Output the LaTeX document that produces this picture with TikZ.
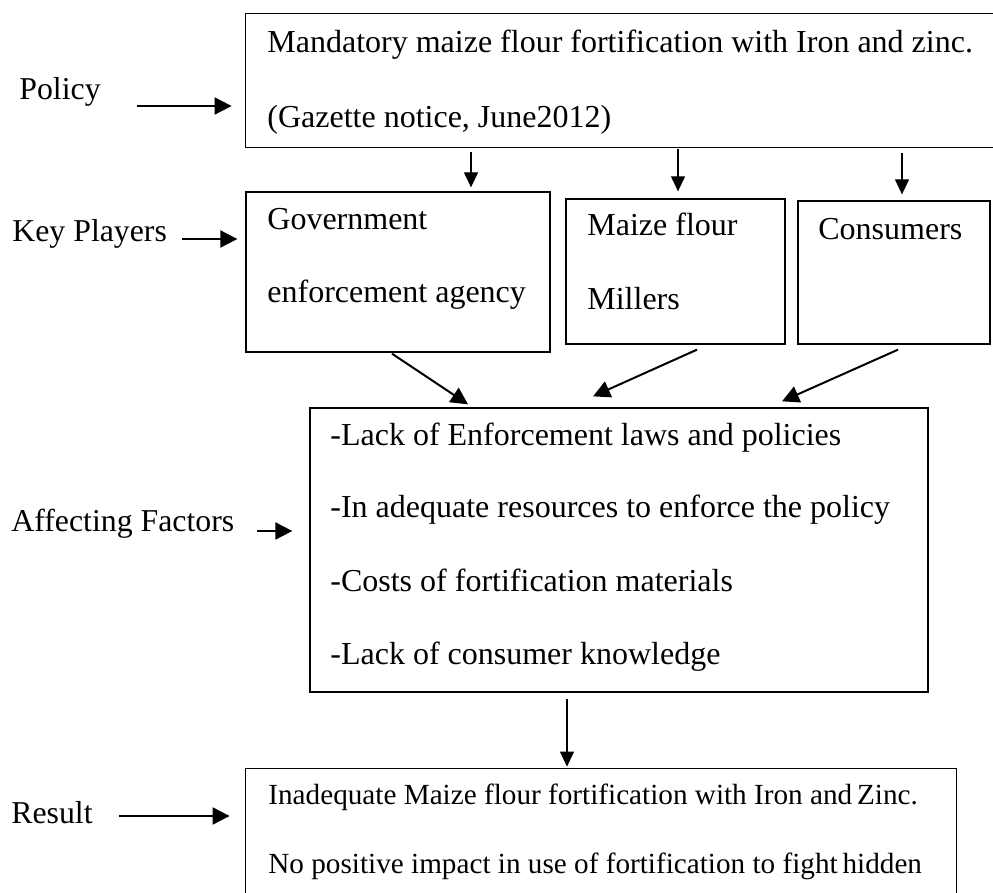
\documentclass[tikz,border=0pt]{standalone}
\usepackage{fontspec}
\setmainfont{Liberation Serif}
\usetikzlibrary{arrows.meta,calc,fit}
\begin{document}
\begin{tikzpicture}[x=0.5pt,y=-0.5pt,
  lab/.style={anchor=base west,inner sep=0pt,font=\fontsize{15.9pt}{18pt}\selectfont},
  txt/.style={anchor=base west,inner sep=0pt,font=\fontsize{16pt}{18pt}\selectfont},
  rtxt/.style={anchor=base west,inner sep=0pt,font=\fontsize{14.6pt}{17pt}\selectfont},
  box/.style={draw,line width=0.65pt,inner sep=0pt},
  frame/.style={inner sep=0pt},
  arr/.style={line width=1pt,-{Triangle[length=8.5pt,width=8.5pt]}},
  tarr/.style={line width=0.65pt,-{Triangle[length=7.5pt,width=7pt]}}]
\useasboundingbox (0,0) rectangle (993,893);
% boxes
\node[frame,fit={(246,14)(993,147)}] (top) {};
\draw[line width=0.65pt] (top.north east) -- (top.north west) -- (top.south west) -- (top.south east);
\node[box,fit={(246,192)(550,352)}] (gov) {};
\node[box,fit={(566,199)(785,344)}] (mil) {};
\node[box,fit={(798,201)(990,344)}] (con) {};
\node[box,fit={(310,408)(928,692)}] (fac) {};
\node[frame,fit={(246,769)(956,893)}] (res) {};
\draw[line width=0.65pt] (res.south west) -- (res.north west) -- (res.north east) -- (res.south east);
% texts
\node[txt] (t1) at (267,53) {Mandatory maize flour fortification with Iron and zinc.};
\node[txt] (t2) at (267,128) {(Gazette notice, June2012)};
\node[txt] (g1) at (267,230) {Government};
\node[txt] (g2) at (267,303) {enforcement agency};
\node[txt] (m1) at (587,236) {Maize flour};
\node[txt] (m2) at (587,310) {Millers};
\node[txt] (c1) at (818,240) {Consumers};
\node[txt] (f1) at (330,446) {-Lack of Enforcement laws and policies};
\node[txt] (f2) at (330,518) {-In adequate resources to enforce the policy};
\node[txt] (f3) at (330,592) {-Costs of fortification materials};
\node[txt] (f4) at (330,665) {-Lack of consumer knowledge};
\node[rtxt] (r1) at (268,805) {Inadequate Maize flour fortification with Iron and\,Zinc.};
\node[rtxt] (r2) at (268,874) {No positive impact in use of fortification to fight\,hidden};
% labels
\node[lab] (policy) at (19,100) {Policy};
\node[lab] (key) at (12,242) {Key Players};
\node[lab] (aff) at (11,532) {Affecting Factors};
\node[lab] (result) at (11,824) {Result};
\coordinate (pA) at (137,106);
\coordinate (kA) at (182,239);
\coordinate (aA) at (257,531);
\coordinate (rA) at (119,816);
\draw[arr,shorten >=7pt] (pA) -- (top.west |- pA);
\draw[arr,shorten >=4pt] (kA) -- (gov.west |- kA);
\draw[arr,shorten >=8.5pt] (aA) -- (fac.west |- aA);
\draw[arr,shorten >=8pt] (rA) -- (res.west |- rA);
% down arrows from policy box
\draw[tarr] ($(top.south -| 471,0)+(0,5)$) -- ($(gov.north -| 471,0)+(0,-4)$);
\draw[tarr] ($(top.south -| 678,0)+(0,2)$) -- ($(mil.north -| 678,0)+(0,-7)$);
\draw[tarr] ($(top.south -| 902,0)+(0,6)$) -- ($(con.north -| 902,0)+(0,-6)$);
% to factors
\draw[arr] ($(gov.south -| 392,0)+(0,1)$) -- ($(fac.north -| 468,0)+(0,-3)$);
\draw[arr] ($(mil.south -| 697,0)+(0,5)$) -- ($(fac.north -| 593,0)+(0,-11)$);
\draw[arr] ($(con.south -| 898,0)+(0,5)$) -- ($(fac.north -| 782,0)+(0,-6)$);
% to result
\draw[tarr] ($(fac.south -| 567,0)+(0,6)$) -- ($(res.north -| 567,0)+(0,-2)$);
\end{tikzpicture}
\end{document}
